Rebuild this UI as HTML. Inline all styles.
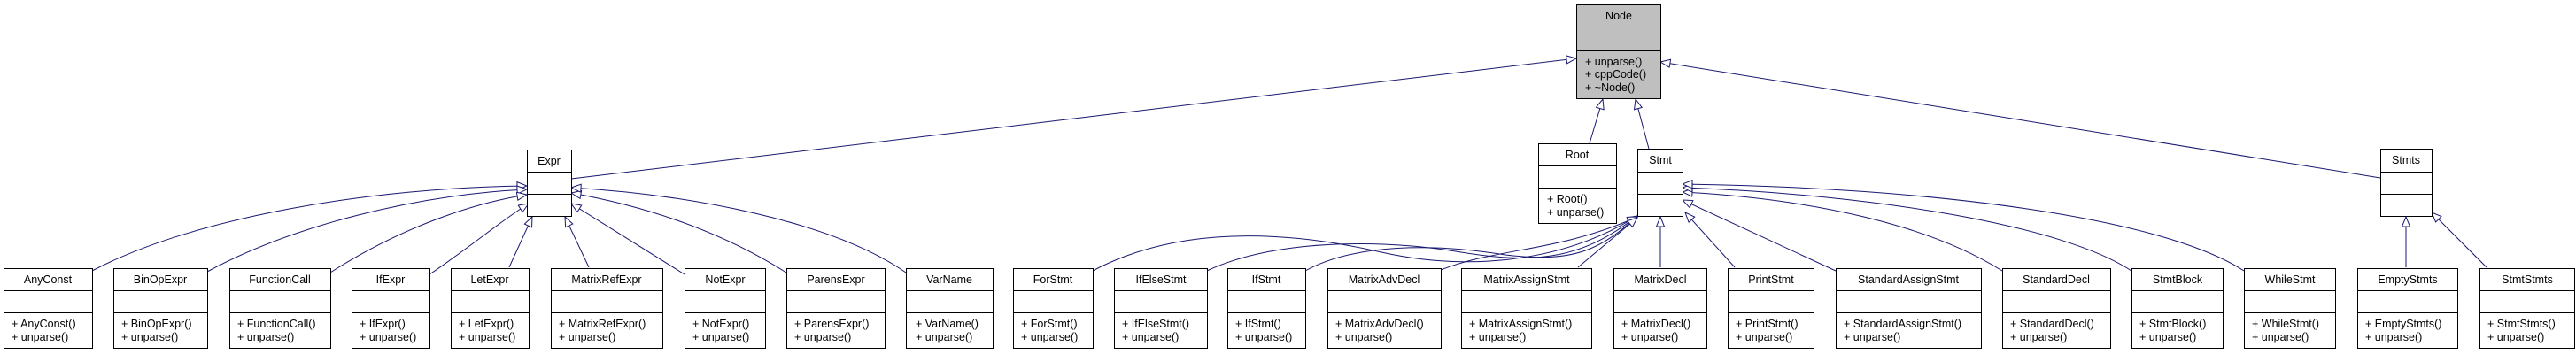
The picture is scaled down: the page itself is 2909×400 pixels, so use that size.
<!DOCTYPE html>
<html><head><meta charset="utf-8"><style>
html,body{margin:0;padding:0;background:#fff;}
svg{display:block}
text{font-family:"Liberation Sans",Arial,sans-serif;font-size:12.5px;fill:#000}
</style></head><body>
<svg width="2909" height="400" viewBox="0 0 2909 400" xmlns="http://www.w3.org/2000/svg">
<defs>
<marker id="a" markerUnits="userSpaceOnUse" markerWidth="14" markerHeight="12" refX="12" refY="5" orient="auto">
<path d="M1,0.5 L12,5 L1,9.5 Z" fill="#fff" stroke="#191970" stroke-width="1"/>
</marker>
</defs>
<g fill="none" stroke="#191970" stroke-width="1" marker-end="url(#a)">
<path d="M645,202 L1780,66"/>
<path d="M1795,162 L1810,112"/>
<path d="M1862,168 L1847,112"/>
<path d="M2688,201 L1875,70"/>
<path d="M104,306 C220,245 420,212 595,210"/>
<path d="M234,307 C330,255 470,220 595,214"/>
<path d="M373,308 C440,265 520,232 595,220"/>
<path d="M485,310 C530,280 565,250 597,230"/>
<path d="M575,302 L601,245"/>
<path d="M665,302 L638,245"/>
<path d="M773,310 L645,230"/>
<path d="M888,308 C820,265 740,235 645,218"/>
<path d="M1023,308 C940,250 780,220 645,212"/>
<path d="M1234,306 C1330,255 1450,260 1560,285 C1650,305 1760,300 1849,244"/>
<path d="M1363,306 C1440,270 1560,270 1650,285 C1740,300 1790,290 1849,244"/>
<path d="M1474,306 C1530,275 1620,275 1700,288 C1780,298 1810,280 1849,244"/>
<path d="M1627,305 C1690,280 1760,285 1849,245"/>
<path d="M1782,302 L1849,246"/>
<path d="M1875,302 L1875,245"/>
<path d="M1959,302 L1903,240"/>
<path d="M2073,306 L1900,226"/>
<path d="M2261,306 C2180,255 2050,225 1900,217"/>
<path d="M2407,306 C2330,255 2120,220 1900,212"/>
<path d="M2534,306 C2440,245 2180,212 1900,208"/>
<path d="M2717,302 L2717,245"/>
<path d="M2808,302 L2746,240"/>
</g>
<g stroke="#000" stroke-width="1" fill="#fff">
<rect x="1780.5" y="5.5" width="95" height="106" fill="#bfbfbf"/>
<line x1="1780.5" y1="30.5" x2="1875.5" y2="30.5"/><line x1="1780.5" y1="57.5" x2="1875.5" y2="57.5"/>
</g>
<text x="1828" y="22" text-anchor="middle">Node</text>
<text x="1790" y="74">+ unparse()</text>
<text x="1790" y="88">+ cppCode()</text>
<text x="1790" y="103">+ ~Node()</text>

<g stroke="#000" stroke-width="1" fill="#fff">
<rect x="595.5" y="169.5" width="50" height="75"/><line x1="595.5" y1="194.5" x2="645.5" y2="194.5"/><line x1="595.5" y1="219.5" x2="645.5" y2="219.5"/>
<rect x="1849.5" y="168.5" width="51" height="76"/><line x1="1849.5" y1="194.5" x2="1900.5" y2="194.5"/><line x1="1849.5" y1="219.5" x2="1900.5" y2="219.5"/>
<rect x="2688.5" y="168.5" width="58" height="76"/><line x1="2688.5" y1="194.5" x2="2746.5" y2="194.5"/><line x1="2688.5" y1="219.5" x2="2746.5" y2="219.5"/>
<rect x="1737.5" y="162.5" width="88" height="90"/><line x1="1737.5" y1="187.5" x2="1825.5" y2="187.5"/><line x1="1737.5" y1="212.5" x2="1825.5" y2="212.5"/>
</g>
<text x="620" y="186" text-anchor="middle">Expr</text>
<text x="1875" y="185" text-anchor="middle">Stmt</text>
<text x="2717" y="185" text-anchor="middle">Stmts</text>
<text x="1781" y="179" text-anchor="middle">Root</text>
<text x="1747" y="229">+ Root()</text>
<text x="1747" y="244">+ unparse()</text>

<g stroke="#000" stroke-width="1" fill="#fff">
<rect x="4.5" y="303.5" width="100" height="90"/>
<rect x="128.5" y="303.5" width="106" height="90"/>
<rect x="259.5" y="303.5" width="114" height="90"/>
<rect x="397.5" y="303.5" width="88" height="90"/>
<rect x="509.5" y="303.5" width="88" height="90"/>
<rect x="622.5" y="303.5" width="126" height="90"/>
<rect x="773.5" y="303.5" width="91" height="90"/>
<rect x="888.5" y="303.5" width="111" height="90"/>
<rect x="1023.5" y="303.5" width="98" height="90"/>
<rect x="1144.5" y="303.5" width="90" height="90"/>
<rect x="1258.5" y="303.5" width="105" height="90"/>
<rect x="1386.5" y="303.5" width="88" height="90"/>
<rect x="1499.5" y="303.5" width="128" height="90"/>
<rect x="1650.5" y="303.5" width="147" height="90"/>
<rect x="1822.5" y="303.5" width="105" height="90"/>
<rect x="1951.5" y="303.5" width="97" height="90"/>
<rect x="2073.5" y="303.5" width="164" height="90"/>
<rect x="2261.5" y="303.5" width="122" height="90"/>
<rect x="2407.5" y="303.5" width="103" height="90"/>
<rect x="2534.5" y="303.5" width="103" height="90"/>
<rect x="2662.5" y="303.5" width="113" height="90"/>
<rect x="2800.5" y="303.5" width="107" height="90"/>
</g>
<g stroke="#000" stroke-width="1">
<path d="M4.5,328.5h100M4.5,353.5h100 M128.5,328.5h106M128.5,353.5h106 M259.5,328.5h114M259.5,353.5h114 M397.5,328.5h88M397.5,353.5h88 M509.5,328.5h88M509.5,353.5h88 M622.5,328.5h126M622.5,353.5h126 M773.5,328.5h91M773.5,353.5h91 M888.5,328.5h111M888.5,353.5h111 M1023.5,328.5h98M1023.5,353.5h98 M1144.5,328.5h90M1144.5,353.5h90 M1258.5,328.5h105M1258.5,353.5h105 M1386.5,328.5h88M1386.5,353.5h88 M1499.5,328.5h128M1499.5,353.5h128 M1650.5,328.5h147M1650.5,353.5h147 M1822.5,328.5h105M1822.5,353.5h105 M1951.5,328.5h97M1951.5,353.5h97 M2073.5,328.5h164M2073.5,353.5h164 M2261.5,328.5h122M2261.5,353.5h122 M2407.5,328.5h103M2407.5,353.5h103 M2534.5,328.5h103M2534.5,353.5h103 M2662.5,328.5h113M2662.5,353.5h113 M2800.5,328.5h107M2800.5,353.5h107"/>
</g>
<g text-anchor="middle">
<text x="54" y="320">AnyConst</text>
<text x="181" y="320">BinOpExpr</text>
<text x="316" y="320">FunctionCall</text>
<text x="441" y="320">IfExpr</text>
<text x="553" y="320">LetExpr</text>
<text x="685" y="320">MatrixRefExpr</text>
<text x="819" y="320">NotExpr</text>
<text x="944" y="320">ParensExpr</text>
<text x="1072" y="320">VarName</text>
<text x="1189" y="320">ForStmt</text>
<text x="1311" y="320">IfElseStmt</text>
<text x="1430" y="320">IfStmt</text>
<text x="1563" y="320">MatrixAdvDecl</text>
<text x="1724" y="320">MatrixAssignStmt</text>
<text x="1875" y="320">MatrixDecl</text>
<text x="2000" y="320">PrintStmt</text>
<text x="2155" y="320">StandardAssignStmt</text>
<text x="2322" y="320">StandardDecl</text>
<text x="2459" y="320">StmtBlock</text>
<text x="2586" y="320">WhileStmt</text>
<text x="2719" y="320">EmptyStmts</text>
<text x="2854" y="320">StmtStmts</text>
</g>
<g>
<text x="13" y="370">+ AnyConst()</text><text x="13" y="385">+ unparse()</text>
<text x="137" y="370">+ BinOpExpr()</text><text x="137" y="385">+ unparse()</text>
<text x="268" y="370">+ FunctionCall()</text><text x="268" y="385">+ unparse()</text>
<text x="406" y="370">+ IfExpr()</text><text x="406" y="385">+ unparse()</text>
<text x="518" y="370">+ LetExpr()</text><text x="518" y="385">+ unparse()</text>
<text x="631" y="370">+ MatrixRefExpr()</text><text x="631" y="385">+ unparse()</text>
<text x="782" y="370">+ NotExpr()</text><text x="782" y="385">+ unparse()</text>
<text x="897" y="370">+ ParensExpr()</text><text x="897" y="385">+ unparse()</text>
<text x="1034" y="370">+ VarName()</text><text x="1034" y="385">+ unparse()</text>
<text x="1153" y="370">+ ForStmt()</text><text x="1153" y="385">+ unparse()</text>
<text x="1267" y="370">+ IfElseStmt()</text><text x="1267" y="385">+ unparse()</text>
<text x="1395" y="370">+ IfStmt()</text><text x="1395" y="385">+ unparse()</text>
<text x="1508" y="370">+ MatrixAdvDecl()</text><text x="1508" y="385">+ unparse()</text>
<text x="1659" y="370">+ MatrixAssignStmt()</text><text x="1659" y="385">+ unparse()</text>
<text x="1831" y="370">+ MatrixDecl()</text><text x="1831" y="385">+ unparse()</text>
<text x="1960" y="370">+ PrintStmt()</text><text x="1960" y="385">+ unparse()</text>
<text x="2082" y="370">+ StandardAssignStmt()</text><text x="2082" y="385">+ unparse()</text>
<text x="2270" y="370">+ StandardDecl()</text><text x="2270" y="385">+ unparse()</text>
<text x="2416" y="370">+ StmtBlock()</text><text x="2416" y="385">+ unparse()</text>
<text x="2543" y="370">+ WhileStmt()</text><text x="2543" y="385">+ unparse()</text>
<text x="2671" y="370">+ EmptyStmts()</text><text x="2671" y="385">+ unparse()</text>
<text x="2809" y="370">+ StmtStmts()</text><text x="2809" y="385">+ unparse()</text>
</g>
</svg>
</body></html>
